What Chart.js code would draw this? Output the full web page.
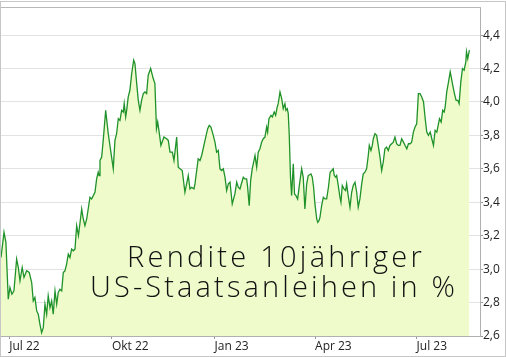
<!DOCTYPE html>
<html><head><meta charset="utf-8">
<script src="https://cdn.jsdelivr.net/npm/chart.js@4"></script>
<style>html,body{margin:0;padding:0;background:#fff;overflow:hidden}canvas{display:block}</style>
</head><body>
<canvas id="c" width="506" height="357"></canvas>
<script>
// days since 1 July 2022
const dayOffsets = [
-7.4,-4.7,-3.0,-0.9,0.6,2.4,4.2,6.6,8.1,9.6,11.6,13.2,15.6,17.9,20.1,21.5,23.0,24.6,26.0,27.5,29.0,30.5,32.0,33.5,34.9,36.5,38.0,39.4,41.0,42.5,43.9,45.4,47.0,48.4,49.9,51.4,52.9,54.4,55.9,57.3,58.9,60.4,62.0,
64.9,66.3,67.8,69.4,72.3,73.8,75.3,76.8,78.3,79.7,80.5,81.3,82.8,84.2,86.4,88.7,91.7,93.2,94.7,96.2,97.7,99.2,100.7,102.2,103.0,104.3,105.2,106.6,108.1,109.7,111.5,112.6,114.2,115.6,117.1,118.6,120.1,121.6,123.1,124.5,126.7,129.0,130.5,131.9,
133.0,134.1,135.9,138.6,141.0,142.5,144.0,146.1,147.6,150.0,151.4,153.0,155.0,157.4,159.5,160.4,161.9,163.4,165.5,166.4,169.3,170.9,172.4,175.4,177.8,179.2,180.7,182.8,184.3,185.8,187.3,188.8,190.3,191.8,193.3,194.8,196.3,197.8,199.8,202.2,203.8,205.2,206.7,
209.7,211.2,212.7,213.6,215.0,216.3,217.7,219.3,220.2,221.7,223.1,224.6,226.2,227.6,229.1,230.6,231.5,232.7,234.5,235.7,237.4,238.7,240.1,241.0,242.6,244.1,245.5,247.0,247.9,249.1,250.0,250.9,252.0,253.0,254.5,255.6,256.9,258.4,260.5,262.0,263.4,264.9,266.5,267.9,270.3,271.5,272.7,273.9,
275.5,276.4,277.5,278.4,279.9,281.4,282.9,284.4,286.0,287.5,289.0,290.3,291.2,292.5,293.4,294.8,296.3,297.2,298.4,299.9,301.4,302.3,303.7,305.3,306.8,308.2,309.8,311.3,312.7,314.2,315.8,317.2,318.7,320.2,321.7,322.6,324.1,325.3,326.2,327.7,329.2,330.6,332.2,333.7,335.1,336.6,338.1,339.6,341.1,344.1,345.6,347.1,348.6,350.1,351.6,353.2,354.7,356.2,357.7,359.2,360.6,362.1,363.6,365.1,
366.6,368.1,369.6,371.2,372.7,374.1,375.6,377.2,378.6,380.1,381.6,383.1,385.5,387.0,388.4,389.7,390.6,392.0,393.6,395.1,396.0,397.4,398.9,400.4,401.9,403.1,404.6,406.1,407.6,409.1,409.7,410.8,412.3
];
// 10-year US Treasury yield, %
const yields = [
3.07,3.22,3.16,2.82,2.89,2.85,2.87,3.06,3.01,2.93,3.01,2.95,2.99,2.98,2.92,2.81,2.83,2.75,2.73,2.67,2.62,2.65,2.79,2.73,2.84,2.77,2.81,2.73,2.87,2.79,2.86,2.88,2.87,2.98,2.99,3.03,3.09,3.07,3.12,3.11,3.12,3.26,3.20,
3.36,3.30,3.26,3.30,3.43,3.42,3.44,3.46,3.54,3.58,3.56,3.65,3.67,3.77,3.95,3.81,3.67,3.60,3.77,3.81,3.90,3.89,3.95,3.94,3.99,3.91,3.95,4.03,4.07,4.17,4.25,4.23,4.11,4.01,3.95,4.01,4.05,4.06,4.05,4.16,4.20,4.14,4.11,3.84,
3.88,3.83,3.74,3.79,3.78,3.77,3.70,3.70,3.65,3.79,3.61,3.60,3.59,3.46,3.53,3.56,3.48,3.49,3.48,3.51,3.66,3.65,3.68,3.77,3.84,3.86,3.85,3.80,3.76,3.70,3.71,3.60,3.59,3.60,3.55,3.47,3.51,3.52,3.39,3.45,3.52,3.49,3.48,
3.55,3.54,3.54,3.49,3.38,3.53,3.60,3.65,3.68,3.61,3.70,3.72,3.76,3.78,3.79,3.85,3.82,3.90,3.92,3.91,3.94,3.92,3.97,3.99,4.06,4.02,3.96,3.99,3.95,3.96,3.93,3.80,3.55,3.44,3.63,3.45,3.44,3.42,3.53,3.60,3.55,3.36,3.51,3.56,3.57,3.55,3.49,3.39,
3.30,3.28,3.29,3.31,3.38,3.43,3.42,3.42,3.49,3.58,3.59,3.60,3.56,3.55,3.56,3.50,3.43,3.40,3.50,3.48,3.47,3.51,3.44,3.37,3.46,3.50,3.52,3.46,3.37,3.42,3.51,3.57,3.58,3.60,3.68,3.74,3.71,3.74,3.78,3.81,3.80,3.74,3.67,3.59,3.64,3.72,3.73,3.71,3.74,3.76,3.79,3.75,3.74,3.74,3.78,3.76,3.74,3.72,3.75,3.75,3.76,3.82,3.85,3.87,
4.05,4.05,4.03,4.00,3.90,3.82,3.80,3.82,3.78,3.74,3.83,3.82,3.90,3.88,3.95,3.94,3.97,4.06,4.12,4.18,4.15,4.10,4.05,4.01,4.01,3.99,4.12,4.20,4.19,4.24,4.30,4.26,4.31
];
const tickDays = [0, 92, 184, 274, 365];
const tickLabels = ['Jul 22', 'Okt 22', 'Jan 23', 'Apr 23', 'Jul 23'];
const yTickValues = [2.6, 2.8, 3.0, 3.2, 3.4, 3.6, 3.8, 4.0, 4.2, 4.4];
const xRange = [-7.4, 421.8];
const yRange = [2.6, 4.567];
const titleLines = ['Rendite 10jähriger', 'US-Staatsanleihen in %'];

const points = dayOffsets.map((d, i) => ({ x: d, y: yields[i] }));

function fitLine(ctx, text, targetWidth) {
  ctx.letterSpacing = '0px';
  const n = [...text].length;
  const w0 = ctx.measureText(text).width;
  const sp = Math.max(0, (targetWidth - w0) / n);
  ctx.letterSpacing = sp.toFixed(2) + 'px';
  return sp;
}

const framePlugin = {
  id: 'framePlugin',
  beforeDraw(chart) {
    const ctx = chart.ctx;
    ctx.save();
    ctx.fillStyle = '#ffffff';
    ctx.fillRect(0, 0, chart.width, chart.height);
    ctx.restore();
  },
  afterDatasetsDraw(chart) {
    const ctx = chart.ctx;
    const a = chart.chartArea;
    ctx.save();
    // annotation text
    ctx.fillStyle = '#111111';
    ctx.textAlign = 'left';
    ctx.textBaseline = 'alphabetic';
    ctx.font = '300 29px "Open Sans", "Noto Sans", sans-serif';
    const sp1 = fitLine(ctx, titleLines[0], 298);
    ctx.fillText(titleLines[0], 127, 267);
    const sp2 = fitLine(ctx, titleLines[1], 368);
    ctx.fillText(titleLines[1], 90, 297);
    ctx.letterSpacing = '0px';
    // plot frame top
    ctx.strokeStyle = '#b8b8b8';
    ctx.lineWidth = 1;
    ctx.beginPath();
    ctx.moveTo(a.left, Math.round(a.top) + 0.5);
    ctx.lineTo(Math.round(a.right) + 1, Math.round(a.top) + 0.5);
    ctx.stroke();
    // outer border
    ctx.strokeStyle = '#c6c6c6';
    ctx.strokeRect(0.5, 1.5, chart.width - 1, chart.height - 2);
    ctx.restore();
  }
};

const axisFont = { family: '"Open Sans", "Noto Sans", sans-serif', size: 12, lineHeight: 1.2 };

new Chart(document.getElementById('c'), {
  type: 'line',
  data: {
    datasets: [{
      data: points,
      borderColor: '#1f922a',
      borderWidth: 1.3,
      backgroundColor: '#effbcb',
      fill: 'start',
      pointRadius: 0,
      tension: 0
    }]
  },
  options: {
    responsive: false,
    animation: false,
    devicePixelRatio: 1,
    layout: { padding: { top: 4, left: 1, right: 0, bottom: 0 } },
    plugins: { legend: { display: false }, tooltip: { enabled: false } },
    scales: {
      x: {
        type: 'linear',
        position: 'bottom',
        min: xRange[0],
        max: xRange[1],
        afterBuildTicks(scale) { scale.ticks = tickDays.map(v => ({ value: v })); },
        afterFit(scale) { scale.height = 21; },
        grid: { drawOnChartArea: false, tickLength: 3, color: '#9a9a9a' },
        border: { color: '#b0b0b0' },
        ticks: {
          align: 'start',
          autoSkip: false,
          maxRotation: 0,
          padding: 0,
          color: '#222222',
          font: axisFont,
          callback(v) { const i = tickDays.indexOf(v); return i >= 0 ? tickLabels[i] : ''; }
        }
      },
      y: {
        type: 'linear',
        position: 'right',
        min: yRange[0],
        max: yRange[1],
        afterBuildTicks(scale) { scale.ticks = yTickValues.map(v => ({ value: v })); },
        afterFit(scale) { scale.width = 26; },
        grid: { color: '#e3e3e3', tickLength: 3, tickColor: '#9a9a9a' },
        border: { color: '#b0b0b0' },
        ticks: {
          padding: 0,
          color: '#222222',
          font: axisFont,
          callback(v) { return v.toFixed(1).replace('.', ','); }
        }
      }
    }
  },
  plugins: [framePlugin]
});
</script>
</body></html>
